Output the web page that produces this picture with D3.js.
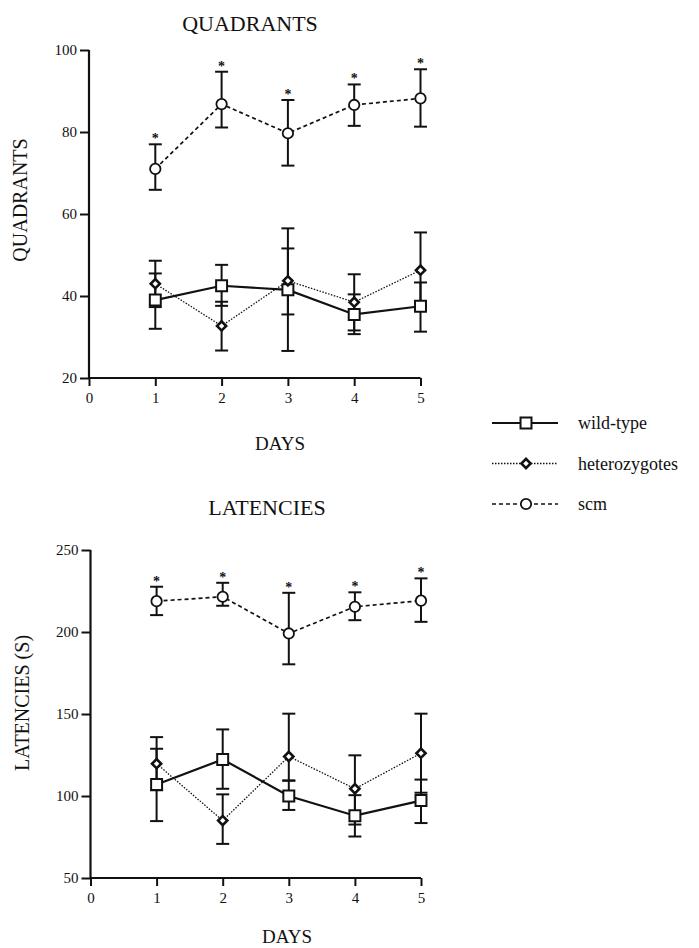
<!DOCTYPE html>
<html lang="en">
  <head>
    <meta charset="UTF-8" />
    <title>Quadrants and Latencies</title>
    <script src="https://d3js.org/d3.v7.min.js"></script>
    <style>
      body { margin: 0; background: #fff; }
      svg text { font-family: "Liberation Serif", "DejaVu Serif", serif; fill: #111; }
    </style>
  </head>
  <body>
    <div id="chart"></div>
    <script>
      // days on the x axis
      var days = [1, 2, 3, 4, 5];
      var dayTicks = [0, 1, 2, 3, 4, 5];

      // QUADRANTS panel: means and error bar ends
      var quadTicks = [20, 40, 60, 80, 100];
      var quadWild = [39, 42.5, 41.5, 35.5, 37.5];
      var quadWildLo = [32, 37.6, 26.6, 30.7, 31.3];
      var quadWildHi = [45.5, 47.6, 56.5, 40.4, 43.3];
      var quadHet = [43, 32.7, 43.7, 38.5, 46.3];
      var quadHetLo = [37.3, 26.7, 35.5, 31.6, 37.3];
      var quadHetHi = [48.6, 38.6, 51.6, 45.3, 55.5];
      var quadScm = [71, 86.8, 79.7, 86.6, 88.2];
      var quadScmLo = [65.9, 81.1, 71.8, 81.5, 81.3];
      var quadScmHi = [77, 94.7, 87.8, 91.6, 95.3];

      // LATENCIES panel
      var latTicks = [50, 100, 150, 200, 250];
      var latWild = [107, 122.3, 100, 88, 97.2];
      var latWildLo = [84.7, 104.4, 91.5, 75.3, 83.5];
      var latWildHi = [128.8, 140.6, 109.3, 100.5, 110];
      var latHet = [119.7, 85, 124.1, 104.4, 126.1];
      var latHetLo = [103.5, 70.8, 109.5, 82.6, 102];
      var latHetHi = [135.9, 101, 150.2, 124.8, 150.2];
      var latScm = [218.8, 221.5, 199.1, 215.4, 219.1];
      var latScmLo = [210.3, 216, 180.3, 207.2, 206.2];
      var latScmHi = [227.6, 230, 223.9, 224.2, 232.7];

      var seriesNames = ["wild-type", "heterozygotes", "scm"];

      var width = 699;
      var height = 948;
      var serif = '"Liberation Serif", "DejaVu Serif", serif';

      var svg = d3
        .select("#chart")
        .append("svg")
        .attr("width", width)
        .attr("height", height);

      // line styles and marker shapes per series (diamond = square turned 45deg)
      var styles = {
        "wild-type": { dash: null, width: 2.2, symbol: d3.symbolSquare, size: 120, sw: 2, rot: 0 },
        heterozygotes: { dash: "1.5,1.5", width: 1.3, symbol: d3.symbolSquare, size: 42, sw: 2.6, rot: 45 },
        scm: { dash: "4,3", width: 1.7, symbol: d3.symbolCircle, size: 85, sw: 1.8, rot: 0 },
      };

      function makeRows(mean, lo, hi) {
        return days.map(function (d, i) {
          return { day: d, v: mean[i], lo: lo[i], hi: hi[i] };
        });
      }

      function drawPanel(cfg) {
        var x = d3.scaleLinear().domain([0, 5]).range([cfg.left, cfg.right]);
        var y = d3
          .scaleLinear()
          .domain([cfg.ticks[0], cfg.ticks[cfg.ticks.length - 1]])
          .range([cfg.bottom, cfg.top]);

        var g = svg.append("g");

        // axes
        var xAxis = g
          .append("g")
          .attr("transform", "translate(0," + cfg.bottom + ")")
          .call(d3.axisBottom(x).tickValues(dayTicks).tickSize(8).tickPadding(6).tickFormat(d3.format("d")));
        var yAxis = g
          .append("g")
          .attr("transform", "translate(" + cfg.left + ",0)")
          .call(d3.axisLeft(y).tickValues(cfg.ticks).tickSize(9).tickPadding(3));
        [xAxis, yAxis].forEach(function (a) {
          a.attr("font-family", serif);
          a.select(".domain").attr("stroke", "#111").attr("stroke-width", 2.2);
          a.selectAll(".tick line").attr("stroke", "#111").attr("stroke-width", 2);
          a.selectAll(".tick text").style("font-size", "15px").attr("fill", "#111")
            .style("font-family", serif);
        });
        xAxis.select(".domain").attr("d", "M" + cfg.left + ",0H" + cfg.right);
        yAxis.select(".domain").attr("d", "M0," + cfg.top + "V" + cfg.bottom);

        // title and axis labels
        g.append("text")
          .attr("x", cfg.titleX)
          .attr("y", cfg.titleY)
          .attr("text-anchor", "middle")
          .style("font-size", "22px")
          .text(cfg.title);
        g.append("text")
          .attr("x", cfg.daysX)
          .attr("y", cfg.daysY)
          .attr("text-anchor", "middle")
          .style("font-size", "19px")
          .text("DAYS");
        g.append("text")
          .attr("transform", "translate(" + cfg.ylabX + "," + cfg.ylabY + ") rotate(-90)")
          .attr("text-anchor", "middle")
          .style("font-size", "20px")
          .text(cfg.ylabel);

        var series = cfg.series;

        // error bars
        series.forEach(function (s) {
          var eg = g.append("g");
          eg.selectAll("line.stem")
            .data(s.rows)
            .join("line")
            .attr("x1", function (d) { return x(d.day); })
            .attr("x2", function (d) { return x(d.day); })
            .attr("y1", function (d) { return y(d.lo); })
            .attr("y2", function (d) { return y(d.hi); })
            .attr("stroke", "#111")
            .attr("stroke-width", 2);
          var caps = [];
          s.rows.forEach(function (d) {
            if (d.lo < d.v) caps.push({ day: d.day, val: d.lo });
            if (d.hi > d.v) caps.push({ day: d.day, val: d.hi });
          });
          eg.selectAll("line.cap")
            .data(caps)
            .join("line")
            .attr("x1", function (d) { return x(d.day) - 6.5; })
            .attr("x2", function (d) { return x(d.day) + 6.5; })
            .attr("y1", function (d) { return y(d.val); })
            .attr("y2", function (d) { return y(d.val); })
            .attr("stroke", "#111")
            .attr("stroke-width", 2);
        });

        // connecting lines
        var line = d3
          .line()
          .x(function (d) { return x(d.day); })
          .y(function (d) { return y(d.v); });
        series.forEach(function (s) {
          var st = styles[s.name];
          g.append("path")
            .datum(s.rows)
            .attr("fill", "none")
            .attr("stroke", "#111")
            .attr("stroke-width", st.width)
            .attr("stroke-dasharray", st.dash)
            .attr("d", line);
        });

        // markers
        series.forEach(function (s) {
          var st = styles[s.name];
          g.append("g")
            .selectAll("path")
            .data(s.rows)
            .join("path")
            .attr("transform", function (d) {
              return "translate(" + x(d.day) + "," + y(d.v) + ") rotate(" + st.rot + ")";
            })
            .attr("d", d3.symbol().type(st.symbol).size(st.size))
            .attr("fill", "#fff")
            .attr("stroke", "#111")
            .attr("stroke-width", st.sw);
        });

        // significance stars above the scm bars
        var scmRows = series[2].rows;
        g.append("g")
          .selectAll("text")
          .data(scmRows)
          .join("text")
          .attr("x", function (d) { return x(d.day); })
          .attr("y", function (d) { return y(d.hi) - 1; })
          .attr("text-anchor", "middle")
          .style("font-size", "14px")
          .style("font-weight", "bold")
          .text("*");
      }

      drawPanel({
        title: "QUADRANTS",
        ylabel: "QUADRANTS",
        ticks: quadTicks,
        left: 89, right: 420.5, top: 50, bottom: 378,
        titleX: 250, titleY: 31,
        daysX: 280, daysY: 450,
        ylabX: 27, ylabY: 200,
        series: [
          { name: "wild-type", rows: makeRows(quadWild, quadWildLo, quadWildHi) },
          { name: "heterozygotes", rows: makeRows(quadHet, quadHetLo, quadHetHi) },
          { name: "scm", rows: makeRows(quadScm, quadScmLo, quadScmHi) },
        ],
      });

      drawPanel({
        title: "LATENCIES",
        ylabel: "LATENCIES (S)",
        ticks: latTicks,
        left: 90.5, right: 421, top: 550, bottom: 878,
        titleX: 267, titleY: 515,
        daysX: 287, daysY: 943,
        ylabX: 29, ylabY: 703,
        series: [
          { name: "wild-type", rows: makeRows(latWild, latWildLo, latWildHi) },
          { name: "heterozygotes", rows: makeRows(latHet, latHetLo, latHetHi) },
          { name: "scm", rows: makeRows(latScm, latScmLo, latScmHi) },
        ],
      });

      // legend
      var legend = svg.append("g").attr("transform", "translate(492,423)");
      seriesNames.forEach(function (name, i) {
        var st = styles[name];
        var row = legend.append("g").attr("transform", "translate(0," + i * 40.5 + ")");
        row.append("line")
          .attr("x1", 0).attr("x2", 66)
          .attr("stroke", "#111")
          .attr("stroke-width", st.width)
          .attr("stroke-dasharray", st.dash);
        row.append("path")
          .attr("transform", "translate(34,0) rotate(" + st.rot + ")")
          .attr("d", d3.symbol().type(st.symbol).size(st.size))
          .attr("fill", "#fff")
          .attr("stroke", "#111")
          .attr("stroke-width", st.sw);
        row.append("text")
          .attr("x", 86)
          .attr("y", 6)
          .style("font-size", "18px")
          .style("font-family", serif)
          .text(name);
      });
    </script>
  </body>
</html>
